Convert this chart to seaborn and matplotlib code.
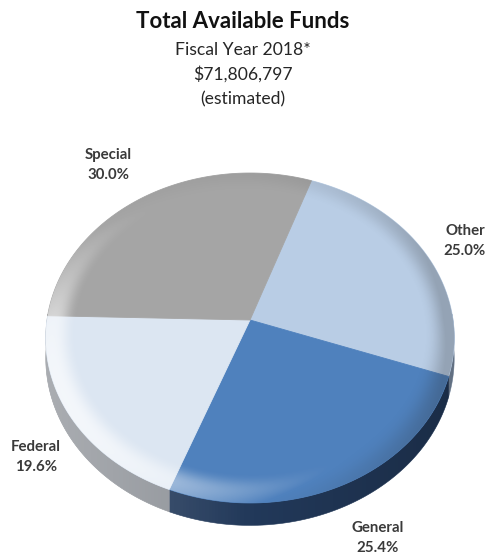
import numpy as np
import matplotlib
matplotlib.use("Agg")
import matplotlib.pyplot as plt
import seaborn as sns
from matplotlib.path import Path
from matplotlib.patches import PathPatch

sns.set_theme(style="white")
plt.rcParams["font.family"] = ["Lato", "DejaVu Sans"]

# Fund sources, in clockwise drawing order
categories = ["Other", "General", "Federal", "Special"]
shares = [25.0, 25.4, 19.6, 30.0]
top_colors = ["#B9CDE5", "#4F81BD", "#DCE6F2", "#A5A5A5"]
side_colors = ["#7D8FA6", "#22395A", "#8E9298", "#7A7A7A"]

title = "Total Available Funds"
subtitle_lines = ["Fiscal Year 2018*", "$71,806,797", "(estimated)"]

# label anchor points (pixels) for each category
label_xy = {"Other": (465, 241), "General": (378, 538),
            "Federal": (36, 457), "Special": (108, 165)}

W, H = 487, 557
fig = plt.figure(figsize=(W / 100, H / 100), dpi=100)
ax = fig.add_axes([0, 0, 1, 1])
ax.set_xlim(0, W)
ax.set_ylim(H, 0)
ax.axis("off")

# perspective disc geometry
CX, CY, A, B, K, DEPTH = 250.0, 320.0, 203.0, 163.0, 0.109, 20.0
START = 70.5


def project(theta_deg, r=1.0, drop=0.0):
    t = np.radians(theta_deg)
    u, v = r * np.cos(t), r * np.sin(t)
    w = 1 + K * v
    return CX + A * u / w, CY - B * v / w + drop / w


def front_arc(a_lo, a_hi):
    """Angles of an arc restricted to the front half of the disc."""
    lo, hi = a_lo, a_hi
    # shift to the [180, 360] window used for the front wall
    while hi < 180:
        lo += 360
        hi += 360
    while lo > 360:
        lo -= 360
        hi -= 360
    lo, hi = max(lo, 178.0), min(hi, 362.0)
    if hi <= lo:
        return None
    return np.linspace(lo, hi, 160)


bounds = START - 3.6 * np.concatenate([[0], np.cumsum(shares)])

# side walls, one flat polygon per slice
for i, cat in enumerate(categories):
    th = front_arc(bounds[i + 1], bounds[i])
    if th is None:
        continue
    xt, yt = project(th)
    xb, yb = project(th[::-1], drop=DEPTH)
    ax.fill(np.concatenate([xt, xb]), np.concatenate([yt, yb]),
            color=side_colors[i], lw=0.4, ec=side_colors[i], zorder=1)

# left-to-right lighting across the wall
X, Y = np.meshgrid(np.arange(W) + 0.5, np.arange(H) + 0.5)
c = np.clip((X - CX) / A, -1, 1)
wall = np.zeros((H, W, 4))
wall[..., :3] = np.where(c[..., None] < 0, 1.0, 0.0)
wall[..., 3] = np.where(c < 0, -c * 0.25, c * 0.22)
wim = ax.imshow(wall, extent=(0, W, H, 0), interpolation="bilinear", zorder=1.5)
tw = np.linspace(178, 362, 400)
wx = np.concatenate([project(tw)[0], project(tw[::-1], drop=DEPTH)[0]])
wy = np.concatenate([project(tw)[1], project(tw[::-1], drop=DEPTH)[1]])
wclip = PathPatch(Path(np.column_stack([wx, wy])), transform=ax.transData,
                  fc="none", ec="none")
ax.add_patch(wclip)
wim.set_clip_path(wclip)

# top faces
for i, cat in enumerate(categories):
    a0, a1 = bounds[i], bounds[i + 1]
    th = np.linspace(a0, a1, 200)
    xs, ys = project(th)
    xs = np.concatenate([[CX], xs])
    ys = np.concatenate([[CY], ys])
    ax.fill(xs, ys, color=top_colors[i], lw=0.6, ec=top_colors[i], zorder=2)

# bevel lighting on the rim of the top face
xp = (X - CX) / A
yp = (CY - Y) / B
v = yp / (1 - K * yp)
u = xp * (1 + K * v)
r = np.hypot(u, v)
ang = np.arctan2(v, u)
s = np.clip((r - 0.85) / 0.15, 0, 1) ** 2 * 2.2
nx, ny, nz = s * np.cos(ang), s * np.sin(ang), np.ones_like(s)
nn = np.sqrt(nx ** 2 + ny ** 2 + nz ** 2)
L = np.array([-0.75, -0.40, 0.55])
L = L / np.linalg.norm(L)
b = (nx * L[0] + ny * L[1] + nz * L[2]) / nn - L[2]
# the far rim is foreshortened, so its bevel barely shows
b *= 1 - 0.75 * np.clip(np.sin(ang), 0, 1)
rgba = np.zeros((H, W, 4))
pos = b > 0
rgba[pos, :3] = 1.0
rgba[pos, 3] = np.clip(b[pos] * 1.5, 0, 0.85)
rgba[~pos, :3] = 0.15
rgba[~pos, 3] = np.clip(-b[~pos] * 0.35, 0, 0.25)
rgba[r > 1.02, 3] = 0
im = ax.imshow(rgba, extent=(0, W, H, 0), interpolation="bilinear", zorder=3)
ex, ey = project(np.linspace(0, 360, 721))
clip = PathPatch(Path(np.column_stack([ex, ey])), transform=ax.transData,
                 fc="none", ec="none")
ax.add_patch(clip)
im.set_clip_path(clip)
ax.set_xlim(0, W)
ax.set_ylim(H, 0)

# category labels
for cat, val in zip(categories, shares):
    x, y = label_xy[cat]
    ax.text(x, y - 10, cat, ha="center", va="center", fontsize=10.8,
            fontweight="bold", color="#3A3A3A", zorder=5)
    ax.text(x, y + 10, f"{val:.1f}%", ha="center", va="center",
            fontsize=10.8, fontweight="bold", color="#3A3A3A", zorder=5)

# titles
ax.text(243, 22, title, ha="center", va="center", fontsize=16,
        fontweight="bold", color="#111111")
for j, line in enumerate(subtitle_lines):
    ax.text(243, 50 + 24.5 * j, line, ha="center", va="center",
            fontsize=12.6, color="#262626")

fig.savefig("out.png", dpi=100)
